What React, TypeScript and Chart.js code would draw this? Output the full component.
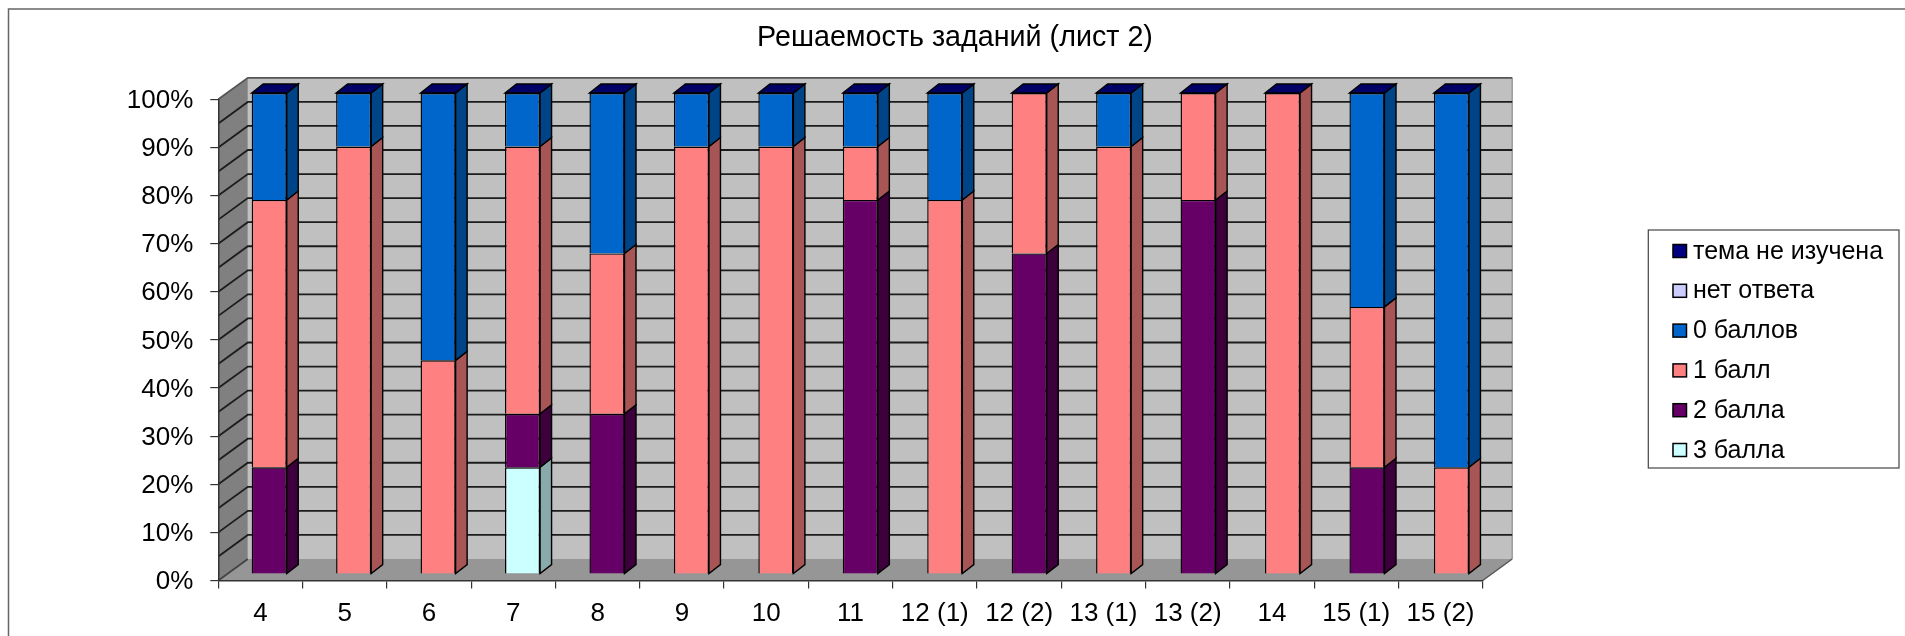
import React, { useEffect, useRef } from "react";
import { Chart, registerables } from "chart.js";

Chart.register(...registerables);

const categories = ["4", "5", "6", "7", "8", "9", "10", "11", "12 (1)", "12 (2)", "13 (1)", "13 (2)", "14", "15 (1)", "15 (2)"];
const seriesNames = ["3 балла", "2 балла", "1 балл", "0 баллов", "нет ответа", "тема не изучена"];

// Number of pupils (out of 9) per task; the chart shows them as shares.
const threePoints = [0, 0, 0, 2, 0, 0, 0, 0, 0, 0, 0, 0, 0, 0, 0];
const twoPoints = [2, 0, 0, 1, 3, 0, 0, 7, 0, 6, 0, 7, 0, 2, 0];
const onePoint = [5, 8, 4, 5, 3, 8, 8, 1, 7, 3, 8, 2, 9, 3, 2];
const zeroPoints = [2, 1, 5, 1, 3, 1, 1, 1, 2, 0, 1, 0, 0, 4, 7];
const noAnswer = [0, 0, 0, 0, 0, 0, 0, 0, 0, 0, 0, 0, 0, 0, 0];
const notStudied = [0, 0, 0, 0, 0, 0, 0, 0, 0, 0, 0, 0, 0, 0, 0];
const totalPupils = 9;

const faceColors = ["#CCFFFF", "#660066", "#FF8080", "#0066CC", "#CCCCFF", "#000080"];
const sideColors = ["#88AAAA", "#3D003D", "#A85555", "#004488", "#8888AA", "#000055"];
const capColor = "#000066";

const FONT = "'Liberation Sans', Arial, sans-serif";
const W = 1905;
const H = 636;
const PLOT_LEFT = 218.3;
const PLOT_RIGHT = 1482.7;
const PLOT_BOTTOM = 580.5;
const WALL_DX = 29.5;
const WALL_DY = 21.5;
const BAR_SCALE_X = 1.00178;
const BAR_DX = 8.29;
const BAR_DY = 6.3;
const BAR_DEPTH_X = 11.5;
const BAR_DEPTH_Y = 9;

const percent = (arr: number[]) => arr.map((v) => (v / totalPupils) * 100);

const scene = {
  id: "scene3d",
  beforeLayout(chart: any) {
    const legend = chart.legend;
    if (legend && !legend.__wrapped) {
      const fit = legend.fit;
      legend.fit = function () {
        fit.call(this);
        this.width = W - PLOT_RIGHT;
      };
      legend.__wrapped = true;
    }
  },
  beforeDraw(chart: any) {
    const { ctx, scales } = chart;
    const y = scales.y;
    if (chart.legend) {
      chart.legend.left = 1658.7;
      chart.legend.top = 224.4;
    }
    if (chart.titleBlock) chart.titleBlock.left = 5;
    const top = y.getPixelForValue(100);
    const bottom = y.getPixelForValue(0);
    const L = chart.chartArea.left;
    const R = chart.chartArea.right;

    ctx.save();
    // outer frame
    ctx.strokeStyle = "#666666";
    ctx.lineWidth = 1.5;
    ctx.beginPath();
    ctx.moveTo(8.5, H);
    ctx.lineTo(8.5, 9);
    ctx.lineTo(W, 9);
    ctx.stroke();

    // back wall
    ctx.fillStyle = "#C0C0C0";
    ctx.fillRect(L + WALL_DX, top - WALL_DY, R - L, bottom - top);
    // side wall
    ctx.fillStyle = "#808080";
    ctx.beginPath();
    ctx.moveTo(L, top);
    ctx.lineTo(L + WALL_DX, top - WALL_DY);
    ctx.lineTo(L + WALL_DX, bottom - WALL_DY);
    ctx.lineTo(L, bottom);
    ctx.closePath();
    ctx.fill();
    // floor
    ctx.fillStyle = "#969696";
    ctx.beginPath();
    ctx.moveTo(L, bottom);
    ctx.lineTo(R, bottom);
    ctx.lineTo(R + WALL_DX, bottom - WALL_DY);
    ctx.lineTo(L + WALL_DX, bottom - WALL_DY);
    ctx.closePath();
    ctx.fill();

    // wall edges
    ctx.strokeStyle = "#9A9A9A";
    ctx.lineWidth = 1.5;
    ctx.beginPath();
    ctx.moveTo(R + WALL_DX, bottom - WALL_DY);
    ctx.lineTo(R + WALL_DX, top - WALL_DY);
    ctx.stroke();
    ctx.beginPath();
    ctx.moveTo(R + WALL_DX, bottom - WALL_DY);
    ctx.lineTo(R, bottom);
    ctx.strokeStyle = "#555555";
    ctx.stroke();

    // grid lines every 5%
    ctx.lineWidth = 1.8;
    for (let v = 5; v <= 100; v += 5) {
      const py = y.getPixelForValue(v);
      ctx.strokeStyle = v === 100 ? "#555555" : "#1C1C1C";
      ctx.beginPath();
      ctx.moveTo(L, py);
      ctx.lineTo(L + WALL_DX, py - WALL_DY);
      ctx.lineTo(R + WALL_DX, py - WALL_DY);
      ctx.stroke();
    }
    ctx.strokeStyle = "#444444";
    ctx.beginPath();
    ctx.moveTo(L, bottom);
    ctx.lineTo(L + WALL_DX, bottom - WALL_DY);
    ctx.stroke();

    // legend frame
    ctx.strokeStyle = "#444444";
    ctx.lineWidth = 1.2;
    ctx.strokeRect(1648.3, 230, 250.7, 238);
    ctx.restore();
  },
  beforeDatasetsDraw(chart: any) {
    const { ctx } = chart;
    ctx.save();
    ctx.transform(BAR_SCALE_X, 0, 0, 1, BAR_DX, -BAR_DY);
    ctx.lineWidth = 1.4;
    ctx.strokeStyle = "#000000";
    const count = chart.data.labels.length;
    const dsCount = chart.data.datasets.length;
    for (let i = 0; i < count; i++) {
      let topEl: any = null;
      for (let d = 0; d < dsCount; d++) {
        const el = chart.getDatasetMeta(d).data[i];
        topEl = el;
        if (Math.abs(el.base - el.y) < 0.01) continue;
        const r = el.x + el.width / 2;
        ctx.fillStyle = sideColors[d];
        ctx.beginPath();
        ctx.moveTo(r, el.y);
        ctx.lineTo(r + BAR_DEPTH_X, el.y - BAR_DEPTH_Y);
        ctx.lineTo(r + BAR_DEPTH_X, el.base - BAR_DEPTH_Y);
        ctx.lineTo(r, el.base);
        ctx.closePath();
        ctx.fill();
        ctx.stroke();
      }
      if (topEl) {
        const l = topEl.x - topEl.width / 2;
        const r = topEl.x + topEl.width / 2;
        ctx.fillStyle = capColor;
        ctx.beginPath();
        ctx.moveTo(l, topEl.y);
        ctx.lineTo(l + BAR_DEPTH_X, topEl.y - BAR_DEPTH_Y);
        ctx.lineTo(r + BAR_DEPTH_X, topEl.y - BAR_DEPTH_Y);
        ctx.lineTo(r, topEl.y);
        ctx.closePath();
        ctx.fill();
        ctx.stroke();
      }
    }
  },
  afterDatasetsDraw(chart: any) {
    chart.ctx.restore();
  },
  afterDraw(chart: any) {
    const { ctx } = chart;
    const items = chart.legend ? chart.legend.legendItems : [];
    ctx.save();
    ctx.lineWidth = 1.5;
    ctx.strokeStyle = "#000000";
    items.forEach((item: any, i: number) => {
      const cy = 251 + i * 39.8;
      ctx.fillStyle = item.fillStyle;
      ctx.fillRect(1673, cy - 6.5, 13.5, 13);
      ctx.strokeRect(1673, cy - 6.5, 13.5, 13);
    });
    ctx.restore();
  },
};

export default function App() {
  const ref = useRef<HTMLCanvasElement>(null);
  useEffect(() => {
    const seriesValues = [threePoints, twoPoints, onePoint, zeroPoints, noAnswer, notStudied];
    const chart = new Chart(ref.current as HTMLCanvasElement, {
      type: "bar",
      data: {
        labels: categories,
        datasets: seriesValues.map((values, i) => ({
          label: seriesNames[i],
          data: percent(values),
          backgroundColor: faceColors[i],
          borderColor: "#000000",
          borderWidth: 1.4,
          barPercentage: 0.415,
          categoryPercentage: 1,
          clip: false,
        })),
      } as any,
      options: {
        animation: false,
        responsive: false,
        devicePixelRatio: 1,
        layout: { padding: 0 },
        font: { family: FONT },
        plugins: {
          tooltip: { enabled: false },
          title: {
            display: true,
            text: "Решаемость заданий (лист 2)",
            color: "#000000",
            font: { family: FONT, size: 28.7, weight: "normal" },
            padding: { top: 21, bottom: 43.9 },
          },
          legend: {
            display: true,
            position: "right",
            align: "start",
            reverse: true,
            labels: {
              color: "#000000",
              font: { family: FONT, size: 25 },
              boxWidth: 7,
              boxHeight: 7,
              padding: 14.8,
            },
          },
        },
        scales: {
          x: {
            stacked: true,
            afterFit(scale: any) {
              scale.height = H - PLOT_BOTTOM;
            },
            border: { display: true, color: "#333333", width: 1.5 },
            grid: { display: true, drawOnChartArea: false, drawTicks: true, tickLength: 8, color: "#333333", lineWidth: 1.2 },
            ticks: { color: "#000000", font: { family: FONT, size: 26 }, padding: 10, maxRotation: 0, autoSkip: false },
          },
          y: {
            stacked: true,
            min: 0,
            max: 100,
            afterFit(scale: any) {
              scale.width = PLOT_LEFT;
            },
            border: { display: true, color: "#333333", width: 1.5 },
            grid: { display: true, drawOnChartArea: false, drawTicks: true, tickLength: 8, color: "#333333", lineWidth: 1.2 },
            ticks: {
              color: "#000000",
              font: { family: FONT, size: 26 },
              padding: 17,
              labelOffset: 1.5,
              stepSize: 10,
              callback: (v: any) => `${v}%`,
            },
          },
        },
      },
      plugins: [scene],
    } as any);
    return () => chart.destroy();
  }, []);
  return (
    <canvas
      ref={ref}
      width={W}
      height={H}
      style={{ position: "absolute", left: 0, top: 0, display: "block", width: W, height: H }}
    />
  );
}
